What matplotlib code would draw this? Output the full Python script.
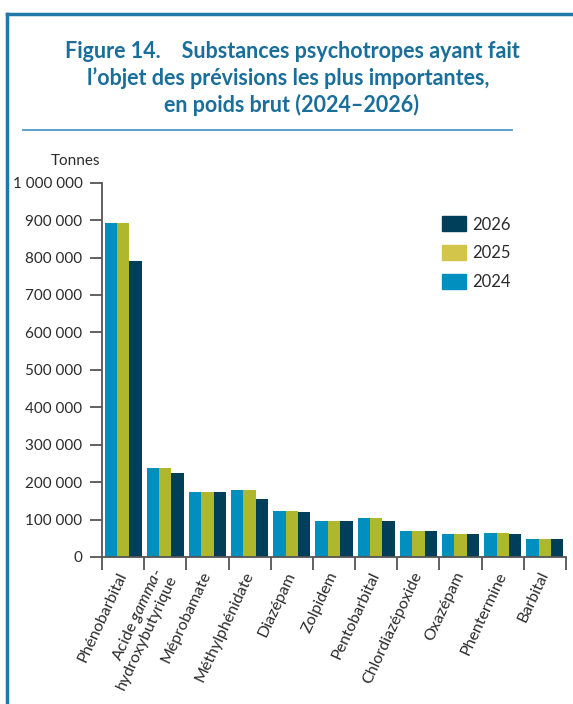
import matplotlib
matplotlib.use("Agg")
import matplotlib.pyplot as plt
import numpy as np
from matplotlib.patches import Patch
from matplotlib.lines import Line2D

plt.rcParams['mathtext.fontset'] = 'custom'
plt.rcParams['mathtext.it'] = 'Lato:italic'
plt.rcParams['mathtext.rm'] = 'Lato'

categories = ["Phénobarbital", "Acide $\\mathit{gamma}$-\nhydroxybutyrique", "Méprobamate",
              "Méthylphénidate", "Diazépam", "Zolpidem", "Pentobarbital",
              "Chlordiazépoxide", "Oxazépam", "Phentermine", "Barbital"]
v2024 = [893000, 238000, 174000, 180000, 124000, 97000, 105000, 70000, 62000, 65000, 49000]
v2025 = [893000, 238000, 174000, 180000, 124000, 97000, 105000, 70000, 62000, 65000, 49000]
v2026 = [791000, 225000, 174000, 156000, 120000, 97000, 97000, 70000, 62000, 62000, 49000]
years = ["2024", "2025", "2026"]
yticks = [0, 100000, 200000, 300000, 400000, 500000, 600000, 700000, 800000, 900000, 1000000]

c2024 = "#008FBE"
c2025 = "#AFB82C"
c2025_leg = "#D2C54A"
c2026 = "#003F5A"
title_color = "#1A6E9A"
font = "Lato"

fig = plt.figure(figsize=(5.73, 7.04), dpi=100)
ax = fig.add_axes([102/573, 1-557/704, (566-102)/573, (557-182.7)/704])

x = np.arange(len(categories))
w = 0.293
ax.bar(x - w, v2024, w, color=c2024, linewidth=0)
ax.bar(x, v2025, w, color=c2025, linewidth=0)
ax.bar(x + w, v2026, w, color=c2026, linewidth=0)

ax.set_xlim(-0.5, len(categories) - 0.5)
ax.set_ylim(0, 1000000)
ax.set_yticks(yticks)
ax.set_yticklabels([f"{v:,}".replace(",", " ") for v in yticks], fontsize=11, color="#2b2b2b", family=font)
ax.set_xticks(np.arange(len(categories) + 1) - 0.5)
ax.set_xticklabels([])
ax.set_xticks(x, minor=True)
ax.set_xticklabels(categories, minor=True, rotation=65, ha="right", va="center",
                   rotation_mode="anchor", fontsize=11.5, color="#2b2b2b", family=font,
                   linespacing=1.05)
ax.tick_params(axis="x", which="minor", length=0, pad=11)
ax.tick_params(axis="x", which="major", length=9, width=1.3, color="#555555")
ax.tick_params(axis="y", length=9, width=1.3, color="#555555", pad=5)
for s in ["top", "right"]:
    ax.spines[s].set_visible(False)
for s in ["left", "bottom"]:
    ax.spines[s].set_color("#555555")
    ax.spines[s].set_linewidth(1.3)

fig.text(100/573, 1-161/704, "Tonnes", ha="right", va="center", fontsize=11, color="#2b2b2b", family=font)

handles = [Patch(color=c2026), Patch(color=c2025_leg), Patch(color=c2024)]
ax.legend(handles, ["2026", "2025", "2024"], loc="upper left", bbox_to_anchor=(0.70, 0.95),
          frameon=False, prop={"family": font, "size": 12}, handlelength=1.45, handleheight=1.0,
          labelspacing=0.75, handletextpad=0.35, labelcolor="#2b2b2b")

# titles
tprops = dict(ha="center", va="baseline", fontsize=15.5, fontweight="bold", color=title_color,
              family=font)
fig.text(292/573, 1-58/704, "Figure 14.    Substances psychotropes ayant fait", **tprops)
fig.text(288/573, 1-85/704, "l\u2019objet des prévisions les plus importantes,", **tprops)
fig.text(292/573, 1-112/704, "en poids brut (2024\u20132026)", **tprops)

# frame and separator
fig.add_artist(Line2D([7/573, 7/573], [0, 1-14/704], color="#1F78A8", linewidth=2.5))
fig.add_artist(Line2D([7/573, 1], [1-14/704, 1-14/704], color="#1F78A8", linewidth=2.5))
fig.add_artist(Line2D([23/573, 512/573], [1-130/704, 1-130/704], color="#4A9CC8", linewidth=1.3))

fig.savefig("out.png", dpi=100)
